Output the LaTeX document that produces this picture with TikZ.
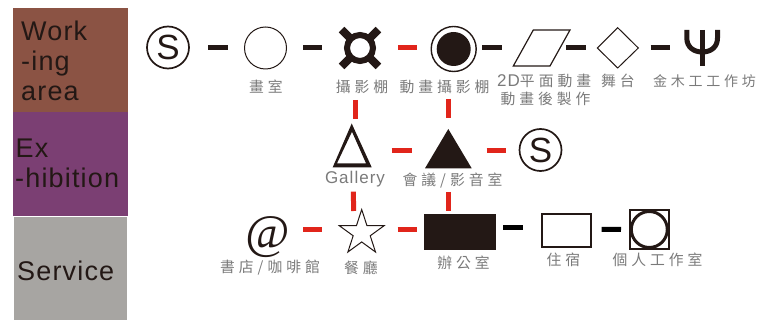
\documentclass[tikz,border=0pt]{standalone}
\usepackage{fontspec}
\usetikzlibrary{shapes.geometric}
\setmainfont{Liberation Sans}
\newfontfamily\cjkf[LetterSpace=27]{Noto Sans CJK TC}
\newfontfamily\bigf[LetterSpace=4.3]{Liberation Sans}
\newfontfamily\smallf[LetterSpace=6]{Liberation Sans}
\newfontfamily\atf{Liberation Serif}
\definecolor{ink}{HTML}{231815}
\definecolor{workc}{HTML}{8B5344}
\definecolor{exhc}{HTML}{7B3F73}
\definecolor{servc}{HTML}{A7A5A2}
\definecolor{redd}{HTML}{E1251B}
\definecolor{capc}{HTML}{7A7A7A}
\tikzset{
  band/.style={anchor=north west,inner sep=0,outer sep=0,minimum width=#1},
  bandtext/.style={anchor=base west,inner sep=0,text=ink,font=\bigf\fontsize{27}{27}\selectfont},
  lbl/.style={anchor=center,inner sep=0,text=capc,font=\cjkf\fontsize{14.8}{15}\selectfont},
  blkdash/.style={draw=ink,line width=5pt},
  reddash/.style={draw=redd,line width=5pt},
  ring/.style={circle,draw=ink,inner sep=0,outer sep=0,minimum size=#1},
  ess/.style={ring=42pt,line width=1.7pt,text=ink,font=\fontsize{35}{35}\selectfont},
}
\begin{document}
\begin{tikzpicture}[x=1pt,y=-1pt]
\useasboundingbox (0,0) rectangle (758,320);
% bands
\node[band=115pt,minimum height=104pt,fill=workc] (bw) at (13,8) {};
\node[band=115pt,minimum height=104pt,fill=exhc] (be) at (13,112) {};
\node[band=113pt,minimum height=103pt,fill=servc] (bs) at (14,217) {};
\node[bandtext] (t1) at (21,41) {Work};
\node[bandtext] (t2) at (21,71) {-ing};
\node[bandtext] (t3) at (21,100.5) {area};
\node[bandtext] (t4) at (15.5,158) {Ex};
\node[bandtext] (t5) at (15,188) {-hibition};
\node[bandtext] (t6) at (17,280.5) {Service};
% row 1
\node[ess] (s1) at (168,47.5) {S};
\node[ring=42pt,line width=1pt] (room) at (265.5,48) {};
\foreach \a in {45,135,225,315}{\draw[ink,line width=8pt] (360,48) ++(\a:13pt) -- ++(\a:13pt);}
\node[ring=26pt,line width=6pt] (cur) at (360,48) {};
\node[ring=45pt,line width=1.4pt] (anim) at (453.7,49) {};
\node[circle,fill=ink,inner sep=0,minimum size=34pt] (animin) at (anim.center) {};
\path (513.3,66) coordinate (pa) (533.3,30) coordinate (pb) (570,30) coordinate (pc) (550,66) coordinate (pd);
\draw[ink,line width=1.2pt,line join=miter] (pa) -- (pb) -- (pc) -- (pd) -- cycle;
\coordinate (para) at (541.7,48);
\path (597.3,48) coordinate (da) (617.7,27.7) coordinate (db) (638.3,48) coordinate (dc) (617.7,68) coordinate (dd);
\draw[ink,line width=1pt] (da) -- (db) -- (dc) -- (dd) -- cycle;
\coordinate (dia) at (617.7,48);
\coordinate (psi) at (702.3,48);
\draw[ink,line width=5pt] (702.3,30) -- (702.3,66.5);
\draw[ink,line width=5pt] (686.8,30) -- (686.8,38) .. controls (686.8,47) and (693.5,52) .. (702.3,52) .. controls (711,52) and (717.5,47) .. (717.5,38) -- (717.5,30);
% row 2
\fill[ink,even odd rule] (351.7,123.5) -- (371.7,167.3) -- (332.7,167.3) -- cycle
  (352,131.7) -- (366,163.3) -- (337,163.3) -- cycle;
\coordinate (gal) at (352,150);
\fill[ink] (448.3,129) -- (471.7,168.3) -- (425,168.3) -- cycle;
\coordinate (meet) at (448.3,150);
\node[ess] (s2) at (540.5,150) {S};
% row 3
\node[inner sep=0,text=ink,font=\atf\itshape\fontsize{48}{48}\selectfont] (at) at (267.5,237) {@};
\node[star,star points=5,star point ratio=2.62,draw=ink,line width=1pt,inner sep=0,minimum size=47pt] (star) at (361.7,233) {};
\node[fill=ink,inner sep=0,minimum width=72pt,minimum height=36pt] (office) at (460,232) {};
\node[draw=ink,line width=1.5pt,inner sep=0,minimum width=49pt,minimum height=33pt] (stay) at (566.6,230.5) {};
\node[draw=ink,line width=1.8pt,inner sep=0,minimum size=39pt] (sq) at (649.3,229.5) {};
\node[ring=36pt,line width=3pt] (sqc) at (sq.center) {};
% captions
\node[lbl] (c1) at (266,87) {畫室};
\node[lbl] (c2) at (362,87) {攝影棚};
\node[lbl] (c3) at (444.5,87) {動畫攝影棚};
\node[lbl,anchor=west] (c4) at (497,81) {{\smallf\fontsize{17}{17}\selectfont 2D}平面動畫};
\node[lbl] (c5) at (618,81) {舞台};
\node[lbl,font=\cjkf\fontsize{14}{15}\selectfont] (c6) at (704.5,81) {金木工工作坊};
\node[lbl] (c7) at (545.5,99) {動畫後製作};
\node[inner sep=0,anchor=base,text=capc,font=\smallf\fontsize{17}{17}\selectfont] (c8) at (355,184) {Gallery};
\node[lbl] (c9) at (452.5,180.7) {會議/影音室};
\node[lbl] (c10) at (270,268) {書店/咖啡館};
\node[lbl] (c11) at (361,268) {餐廳};
\node[lbl] (c12) at (463.5,263) {辦公室};
\node[lbl] (c13) at (563.5,260) {住宿};
\node[lbl] (c14) at (657.5,260) {個人工作室};
% connectors
\draw[blkdash] ([shift={(40,0.5)}]s1.center) -- ([shift={(-37.5,0)}]room.center);
\draw[blkdash] ([shift={(37.5,0)}]room.center) -- ([shift={(-38,0)}]cur.center);
\draw[reddash] ([shift={(38,0)}]cur.center) -- ([shift={(-36.5,-1)}]anim.center);
\draw[blkdash] ([shift={(28.3,-1)}]anim.center) -- ([shift={(-40,0)}]para);
\draw[blkdash] ([shift={(24.3,0)}]para) -- ([shift={(-31.7,0)}]dia);
\draw[blkdash] ([shift={(33,0)}]dia) -- ([shift={(-32.3,0)}]psi);
\draw[reddash] ([shift={(3,-50)}]gal) -- ([shift={(3,-31)}]gal);
\draw[reddash] ([shift={(-0.3,-51.3)}]meet) -- ([shift={(-0.3,-32.3)}]meet);
\draw[reddash] ([shift={(39.7,0.7)}]gal) -- ([shift={(-36.6,0.7)}]meet);
\draw[reddash] ([shift={(38.4,0.7)}]meet) -- ([shift={(-35,0.7)}]s2.center);
\draw[reddash] ([shift={(1.3,41.7)}]gal) -- ([shift={(-8,-22)}]star.center);
\draw[reddash] ([shift={(0,42)}]meet) -- ([shift={(-11.7,-21)}]office.center);
\draw[reddash] ([shift={(35.5,-7.3)}]at.center) -- ([shift={(-39.7,-3.3)}]star.center);
\draw[reddash] ([shift={(36,-3.3)}]star.center) -- ([shift={(-43,-2.3)}]office.center);
\draw[blkdash,draw=black] ([shift={(43.3,-4)}]office.center) -- ([shift={(-43.6,-2.5)}]stay.center);
\draw[blkdash,draw=black] ([shift={(35,-1.2)}]stay.center) -- ([shift={(-28.3,0)}]sq.center);
\end{tikzpicture}
\end{document}
